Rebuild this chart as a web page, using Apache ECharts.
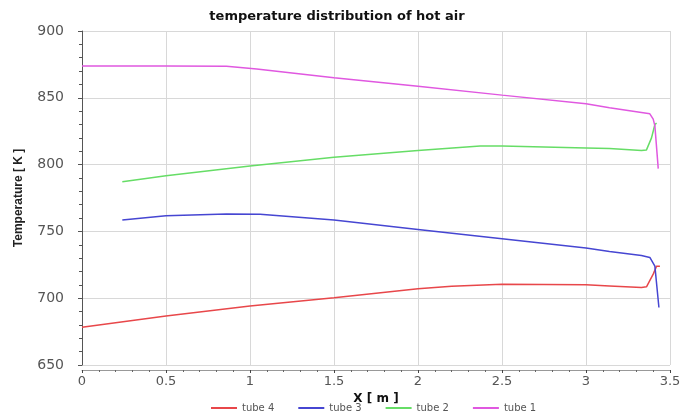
<!DOCTYPE html>
<html><head><meta charset="utf-8">
<script src="https://cdn.jsdelivr.net/npm/echarts@6/dist/echarts.min.js"></script>
<style>html,body{margin:0;padding:0;background:#fff}#c{width:684px;height:418px}</style>
</head><body><div id="c"></div>
<script>
const titleText = "temperature distribution of hot air";
const xName = "X [ m ]";
const yName = "Temperature [ K ]";
const seriesNames = ["tube 4", "tube 3", "tube 2", "tube 1"];

const tube4X = [0, 0.5, 1.0, 1.5, 2.0, 2.2, 2.5, 3.0, 3.14, 3.33, 3.36, 3.40, 3.42, 3.44];
const tube4Y = [678.2, 686.7, 694.2, 700.4, 707, 709, 710.5, 710, 709.2, 708, 708.5, 718, 724, 724];

const tube3X = [0.24, 0.5, 0.86, 1.06, 1.5, 2.0, 2.5, 3.0, 3.14, 3.33, 3.38, 3.41, 3.434];
const tube3Y = [758.5, 761.8, 763, 762.8, 758.5, 751.5, 744.5, 737.5, 735, 732, 730.5, 724, 693];

const tube2X = [0.24, 0.5, 1.0, 1.5, 2.0, 2.37, 2.5, 3.0, 3.14, 3.33, 3.36, 3.39, 3.41, 3.42];
const tube2Y = [787.2, 791.7, 799, 805.5, 810.5, 814, 814, 812.5, 812, 810.5, 811, 820, 830, 831];

const tube1X = [0, 0.5, 0.86, 1.04, 1.25, 1.5, 2.0, 2.5, 3.0, 3.14, 3.3, 3.38, 3.40, 3.41, 3.43];
const tube1Y = [873.8, 873.8, 873.6, 871.5, 868.5, 865, 858.7, 852, 845.5, 842.5, 839.5, 838, 834, 829, 797];

const colors = ["#e8474a", "#4646d2", "#66dd66", "#e058e0"];

const zip = (xs, ys) => xs.map((x, i) => [x, ys[i]]);
const allX = [tube4X, tube3X, tube2X, tube1X];
const allY = [tube4Y, tube3Y, tube2Y, tube1Y];

const chart = echarts.init(document.getElementById('c'), null, {renderer: 'canvas'});
chart.setOption({
  animation: false,
  backgroundColor: '#fff',
  title: {
    text: titleText, left: 332, top: 5, textAlign: 'center',
    textStyle: {fontFamily: 'DejaVu Sans', fontWeight: 'bold', fontSize: 13, color: '#111'}
  },
  legend: {
    bottom: 0, left: 206,
    itemWidth: 26, itemHeight: 2, itemGap: 24, icon: 'rect',
    textStyle: {fontFamily: 'DejaVu Sans', fontSize: 10, color: '#555'},
    data: seriesNames
  },
  grid: {left: 82, right: 14, top: 31, bottom: 53, containLabel: false},
  xAxis: {
    type: 'value', min: 0, max: 3.5, interval: 0.5, offset: 5,
    name: xName, nameLocation: 'middle', nameGap: 16,
    nameTextStyle: {fontFamily: 'DejaVu Sans', fontWeight: 'bold', fontSize: 12, color: '#111'},
    axisLine: {show: true, lineStyle: {color: '#999'}},
    axisTick: {show: true, length: 3, lineStyle: {color: '#444'}},
    minorTick: {show: true, splitNumber: 5, length: 2, lineStyle: {color: '#666'}},
    axisLabel: {margin: 5, fontFamily: 'DejaVu Sans', fontSize: 13, color: '#555'},
    splitLine: {show: true, lineStyle: {color: '#d8d8d8'}}
  },
  yAxis: {
    type: 'value', min: 650, max: 900, interval: 50, offset: 10,
    name: yName, nameLocation: 'middle', nameGap: 47, nameRotate: 90,
    nameTextStyle: {fontFamily: 'Liberation Sans Narrow, Liberation Sans', fontWeight: 'bold', fontSize: 12, color: '#222'},
    axisLine: {show: true, lineStyle: {color: '#555'}},
    axisTick: {show: true, length: 4, lineStyle: {color: '#555'}},
    minorTick: {show: true, splitNumber: 5, length: 3, lineStyle: {color: '#555'}},
    axisLabel: {margin: 8, fontFamily: 'DejaVu Sans', fontSize: 14, color: '#555'},
    splitLine: {show: true, lineStyle: {color: '#d8d8d8'}}
  },
  series: seriesNames.map((n, i) => ({
    name: n, type: 'line', data: zip(allX[i], allY[i]),
    showSymbol: false, symbol: 'none',
    lineStyle: {width: 1.5, color: colors[i]},
    itemStyle: {color: colors[i]}
  }))
});
</script></body></html>
